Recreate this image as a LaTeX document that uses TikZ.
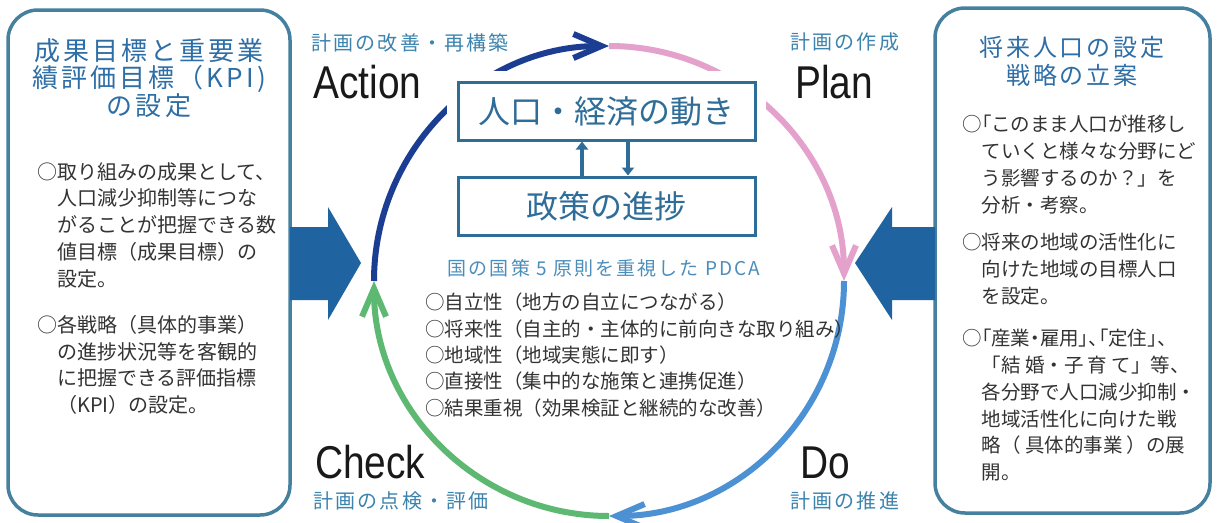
\documentclass[tikz,border=0pt]{standalone}
\usepackage{fontspec}
\setmainfont{Liberation Sans}
\newfontfamily\jp{Noto Sans CJK JP}
\newfontfamily\jppalt[RawFeature=+palt]{Noto Sans CJK JP}
\newfontfamily\jptitle[LetterSpace=12]{Noto Sans CJK JP}
\newfontfamily\jplab[LetterSpace=11]{Noto Sans CJK JP}
\newfontfamily\cond[FakeStretch=0.845]{Liberation Sans}
\usetikzlibrary{arrows.meta}
\definecolor{frame}{HTML}{45809E}
\definecolor{titleblue}{HTML}{2E6EA6}
\definecolor{bodytext}{HTML}{333333}
\definecolor{bigarrow}{HTML}{1F64A0}
\definecolor{boxline}{HTML}{2F6D99}
\definecolor{labelblue}{HTML}{3C83AE}
\definecolor{headblue}{HTML}{4B8DBB}
\definecolor{arcA}{HTML}{1B3E93}
\definecolor{arcP}{HTML}{E3A1CB}
\definecolor{arcD}{HTML}{4B91D3}
\definecolor{arcC}{HTML}{5DB872}
\newcommand{\indl}{\hspace*{1em}}
\tikzset{
  bigbox/.style={draw=frame, line width=3.5pt, rounded corners=30pt, fill=white},
  boxtitle/.style={text=titleblue, align=center, inner sep=0pt, anchor=north,
    font=\jptitle\fontsize{26}{27.5}\selectfont},
  boxbody/.style={text=bodytext, align=left, inner sep=0pt, anchor=north west,
    font=\jp\fontsize{20}{26.8}\selectfont},
  cbox/.style={draw=boxline, line width=3pt, fill=white, minimum width=297pt,
    minimum height=58pt, text=boxline, inner sep=0pt,
    font=\jp\fontsize{32}{36}\selectfont, preaction={draw=white, line width=22pt}},
  pdcaword/.style={text=black!90, inner sep=0pt, anchor=base west,
    font=\cond\fontsize{46}{50}\selectfont},
  steplabel/.style={text=labelblue, inner sep=0pt, anchor=north west,
    font=\jplab\fontsize{20}{24}\selectfont},
  cyclearc/.style={line width=6pt, -{Straight Barb[length=28pt,width=24pt]}},
  inarr/.style={draw=boxline, line width=4pt, -{Triangle[length=8pt,width=12pt]}},
}
\begin{document}
\begin{tikzpicture}[x=1pt,y=-1pt]
\useasboundingbox (0,0) rectangle (1217,522);
\fill[white] (0,0) rectangle (1217,522);
% side boxes
\node[bigbox, minimum width=282pt, minimum height=505pt] (lbox) at (149,262.5) {};
\node[bigbox, minimum width=275pt, minimum height=505pt] (rbox) at (1072.5,260.5) {};
% big arrows
\fill[bigarrow] (290,227) -- (328,227) -- (328,207) -- (361,263) -- (328,320)
  -- (328,300) -- (290,300) -- cycle;
\fill[bigarrow] (935,227) -- (892,227) -- (892,207) -- (855,263) -- (892,320)
  -- (892,300) -- (935,300) -- cycle;
% PDCA cycle
\coordinate (cc) at (609,281);
\draw[cyclearc, arcA] (cc) ++(180:235) arc[start angle=180, end angle=270, radius=235];
\draw[cyclearc, arcP] (cc) ++(270:235) arc[start angle=270, end angle=360, radius=235];
\draw[cyclearc, arcD] (cc) ++(0:235) arc[start angle=0, end angle=90, radius=235];
\draw[cyclearc, arcC] (cc) ++(90:235) arc[start angle=90, end angle=180, radius=235];
% centre boxes
\node[cbox] (b1) at (606.5,111) {人口・経済の動き};
\node[cbox] (b2) at (606.5,206) {政策の進捗};
\draw[inarr] ([xshift=-24.5pt]b2.north) -- ([xshift=-24.5pt]b1.south);
\draw[inarr] ([xshift=21.5pt]b1.south) -- ([xshift=21.5pt]b2.north);
% heading and principles
\node[text=headblue, inner sep=0pt, font=\jplab\fontsize{19}{22}\selectfont] (head) at (604,268)
  {国の国策 5 原則を重視した PDCA};
\node[text=bodytext, align=left, inner sep=0pt, anchor=north west,
  font=\jp\fontsize{19.5}{26.3}\selectfont] (list) at (425,293)
  {○自立性（地方の自立につながる）\\
   ○将来性（自主的・主体的に前向きな取り組み）\\
   ○地域性（地域実態に即す）\\
   ○直接性（集中的な施策と連携促進）\\
   ○結果重視（効果検証と継続的な改善）};
% step labels
\node[steplabel] (la) at (311,33) {計画の改善・再構築};
\node[pdcaword] (wa) at (313,98) {Action};
\node[steplabel] (lp) at (790,33) {計画の作成};
\node[pdcaword] (wp) at (795,98) {Plan};
\node[pdcaword] (wc) at (315,478) {Check};
\node[steplabel] (lc) at (313,491) {計画の点検・評価};
\node[pdcaword] (wd) at (800,478) {Do};
\node[steplabel] (ld) at (790,491) {計画の推進};
% left box texts
\node[boxtitle] (lt) at (149,38) {成果目標と重要業\\績評価目標（KPI)\\の設定};
\node[boxbody] (lp1) at (37,162) {○取り組みの成果として、\\
  \indl 人口減少抑制等につな\\
  \indl がることが把握できる数\\
  \indl 値目標（成果目標）の\\
  \indl 設定。};
\node[boxbody] (lp2) at (37,315) {○各戦略（具体的事業）\\
  \indl の進捗状況等を客観的\\
  \indl に把握できる評価指標\\
  \indl （KPI）の設定。};
% right box texts
\node[boxtitle, font=\jptitle\fontsize{24}{28}\selectfont] (rt) at (1072,36) {将来人口の設定\\戦略の立案};
\node[boxbody, font=\jp\fontsize{19.5}{26.8}\selectfont] (rp1) at (962,115) {○{\jppalt 「}このまま人口が推移し\\
  \indl ていくと様々な分野にど\\
  \indl う影響するのか？」を\\
  \indl 分析・考察。};
\node[boxbody, font=\jp\fontsize{19.5}{26.8}\selectfont] (rp2) at (962,233) {○将来の地域の活性化に\\
  \indl 向けた地域の目標人口\\
  \indl を設定。};
\node[boxbody, font=\jp\fontsize{19.5}{26.8}\selectfont] (rp3) at (962,329) {○{\jppalt 「産業・雇用」、「定住」、}\\
  \indl 「結 婚・子 育 て」等、\\
  \indl 各分野で人口減少抑制・\\
  \indl 地域活性化に向けた戦\\
  \indl 略（ 具体的事業 ）の展\\
  \indl 開。};
\end{tikzpicture}
\end{document}
